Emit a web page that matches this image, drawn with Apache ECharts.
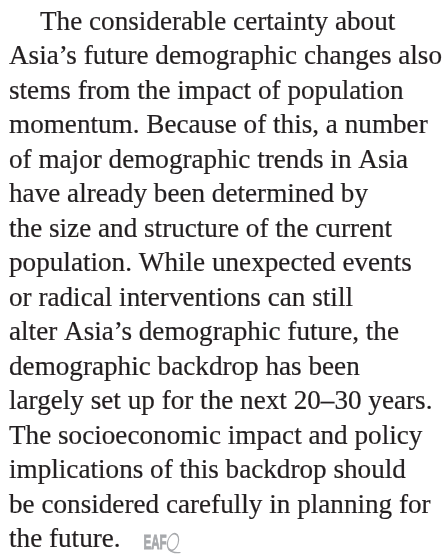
<!DOCTYPE html>
<html>
<head>
<meta charset="utf-8">
<script src="https://cdn.jsdelivr.net/npm/echarts@6/dist/echarts.min.js"></script>
<style>
  html, body { margin: 0; padding: 0; background: #fff; }
  #main { width: 446px; height: 554px; }
</style>
</head>
<body>
<div id="main"></div>
<script>
// paragraph lines, as set in the picture
var lines = [
    'The considerable certainty about',
    'Asia\u2019s future demographic changes also',
    'stems from the impact of population',
    'momentum. Because of this, a number',
    'of major demographic trends in Asia',
    'have already been determined by',
    'the size and structure of the current',
    'population. While unexpected events',
    'or radical interventions can still',
    'alter Asia\u2019s demographic future, the',
    'demographic backdrop has been',
    'largely set up for the next 20\u201330 years.',
    'The socioeconomic impact and policy',
    'implications of this backdrop should',
    'be considered carefully in planning for',
    'the future.'
];
var logoText = 'EAF';

var fontSize = 28;
var lineGap = 34.5;
var firstBase = 32;
var left = 9;
var indent = 31;
var textColor = '#231f20';
var logoColor = '#a7a9ac';
// top对齐时文字基线相对y的偏移
var baseOff = 23.4;

var myChart = echarts.init(document.getElementById('main'));

// 用canvas量一下第二行宽度，横向缩放到原图宽度
var ctx = document.createElement('canvas').getContext('2d');
ctx.font = fontSize + 'px "Liberation Serif"';
var sx = 433 / ctx.measureText(lines[1]).width;

var elements = [];
for (var i = 0; i < lines.length; i++) {
    elements.push({
        type: 'text',
        x: left + (i == 0 ? indent : 0),
        y: firstBase + lineGap * i - baseOff,
        scaleX: sx,
        style: {
            text: lines[i],
            fill: textColor,
            fontSize: fontSize,
            fontFamily: 'Liberation Serif',
            stroke: textColor,
            lineWidth: 0.2
        }
    });
}

// logo after the last line
var lb = firstBase + lineGap * (lines.length - 1) + 1;
var lx = 143.5;
elements.push({
    type: 'text',
    x: lx,
    y: lb - 18,
    scaleX: 0.55,
    style: {
        text: logoText,
        fill: logoColor,
        fontSize: 21,
        fontWeight: 'bold',
        fontFamily: 'Liberation Sans',
        stroke: logoColor,
        lineWidth: 1
    }
});
elements.push({
    type: 'circle',
    x: lx + 29.5,
    y: lb - 8.5,
    scaleX: 0.62,
    rotation: -0.3,
    shape: { cx: 0, cy: 0, r: 8.5 },
    style: { fill: 'none', stroke: logoColor, lineWidth: 1.4, strokeNoScale: true }
});
elements.push({
    type: 'bezierCurve',
    shape: { x1: lx + 25.5, y1: lb - 1, cpx1: lx + 29, cpy1: lb + 3, x2: lx + 37, y2: lb + 2 },
    style: { fill: 'none', stroke: logoColor, lineWidth: 1.2 }
});

var option = {
    backgroundColor: '#fff',
    animation: false,
    graphic: { elements: elements }
};
myChart.setOption(option);
</script>
</body>
</html>
